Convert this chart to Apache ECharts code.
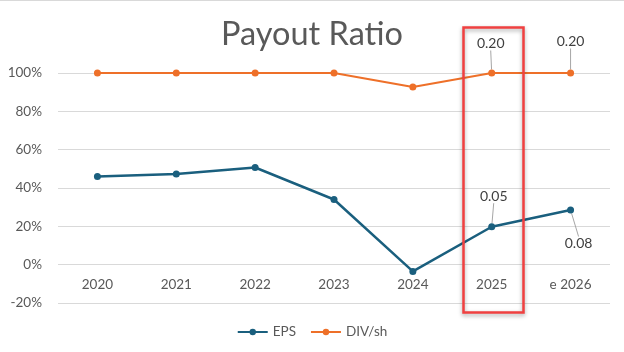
<!DOCTYPE html>
<html>
<head>
<meta charset="utf-8">
<script src="https://cdn.jsdelivr.net/npm/echarts@6/dist/echarts.min.js"></script>
<style>
  html, body { margin: 0; padding: 0; background: #fff; }
  #canvas { width: 624px; height: 352px; }
</style>
</head>
<body>
<div id="canvas"></div>
<script>
var years = ['2020', '2021', '2022', '2023', '2024', '2025', 'e 2026'];
var epsRatio = [46, 47.3, 50.7, 34, -3.5, 19.8, 28.5];
var divRatio = [100, 100, 100, 100, 92.7, 100, 100];
// value labels shown on a few points (per-share figures)
var epsNotes = [null, null, null, null, null, '0.05', '0.08'];
var divNotes = [null, null, null, null, null, '0.20', '0.20'];

var font = 'Lato, "Open Sans", sans-serif';

var makeData = function(vals, notes) {
    var out = [];
    for (var i in vals) {
        var item = {value: vals[i]};
        if (notes[i]) {
            item.label = {show: true, formatter: notes[i]};
            item.labelLine = {show: true};
        }
        out.push(item);
    }
    return out;
};

// where the note labels sit relative to their points
var epsShift = {5: {dx: 2, dy: -15}, 6: {dx: 8, dy: 49}};
var divShift = {5: {dx: -1, dy: -14}, 6: {dx: 0, dy: -16}};

var myChart = echarts.init(document.getElementById('canvas'));
var option = {
    backgroundColor: '#fff',
    animation: false,
    textStyle: {fontFamily: font},
    title: {
        text: 'Payout Ratio',
        left: 'center',
        top: 13,
        textStyle: {fontSize: 32.5, fontWeight: 'normal', color: '#595959', fontFamily: font}
    },
    legend: {
        bottom: 8,
        left: 'center',
        itemWidth: 30,
        itemHeight: 8,
        itemGap: 14,
        textStyle: {fontSize: 13.5, color: '#595959', fontFamily: font},
        data: ['EPS', 'DIV/sh']
    },
    grid: {left: 58, right: 14, top: 73, bottom: 49},
    xAxis: {
        type: 'category',
        data: years,
        boundaryGap: true,
        offset: -38.3,
        axisLine: {show: false},
        axisTick: {show: false},
        axisLabel: {fontSize: 13.5, color: '#595959', margin: 13}
    },
    yAxis: {
        type: 'value',
        min: -20,
        max: 100,
        interval: 20,
        axisLine: {show: false},
        axisTick: {show: false},
        splitLine: {lineStyle: {color: '#d9d9d9'}},
        axisLabel: {fontSize: 13.5, color: '#595959', margin: 16, formatter: '{value}%'}
    },
    series: [
        {
            name: 'EPS',
            type: 'line',
            data: makeData(epsRatio, epsNotes),
            symbol: 'circle',
            symbolSize: 7,
            color: '#1a5f7e',
            lineStyle: {width: 2.5, color: '#1a5f7e'},
            label: {fontSize: 14, color: '#404040', position: 'top'},
            labelLine: {lineStyle: {color: '#a6a6a6', width: 1}},
            labelLayout: function(p) { return epsShift[p.dataIndex] || {}; }
        },
        {
            name: 'DIV/sh',
            type: 'line',
            data: makeData(divRatio, divNotes),
            symbol: 'circle',
            symbolSize: 7,
            color: '#ee7029',
            lineStyle: {width: 2, color: '#ee7029'},
            label: {fontSize: 14, color: '#404040', position: 'top'},
            labelLine: {lineStyle: {color: '#a6a6a6', width: 1}},
            labelLayout: function(p) { return divShift[p.dataIndex] || {}; }
        }
    ],
    graphic: [
        {type: 'rect', left: 0, top: 0, shape: {width: 624, height: 1}, style: {fill: '#d9d9d9'}},
        {
            type: 'rect',
            left: 461, top: 25,
            shape: {width: 60, height: 285},
            style: {fill: 'none', stroke: '#f04040', lineWidth: 2.5, shadowBlur: 4, shadowColor: 'rgba(0,0,0,0.35)', shadowOffsetY: 2},
            z: 100
        }
    ]
};
myChart.setOption(option);
</script>
</body>
</html>
